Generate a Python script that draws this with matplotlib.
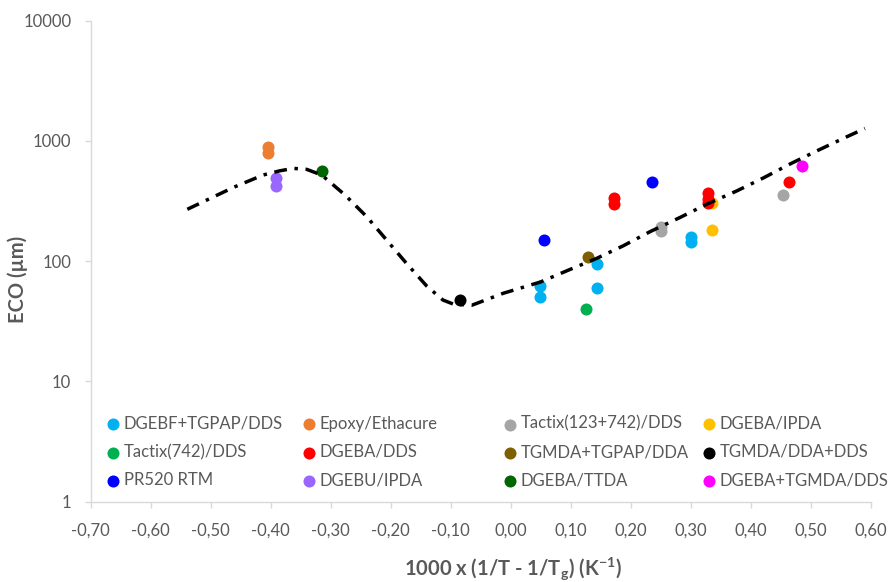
import matplotlib.pyplot as plt
from matplotlib.ticker import FixedLocator, FuncFormatter, NullLocator

plt.rcParams['font.family'] = ['Lato', 'DejaVu Sans']
plt.rcParams['mathtext.fontset'] = 'custom'
plt.rcParams['mathtext.rm'] = 'Lato:bold'
plt.rcParams['mathtext.bf'] = 'Lato:bold'

# series (legend order, row by row)
names = ["DGEBF+TGPAP/DDS", "Epoxy/Ethacure", "Tactix(123+742)/DDS", "DGEBA/IPDA",
         "Tactix(742)/DDS", "DGEBA/DDS", "TGMDA+TGPAP/DDA", "TGMDA/DDA+DDS",
         "PR520 RTM", "DGEBU/IPDA", "DGEBA/TTDA", "DGEBA+TGMDA/DDS"]
colors = ["#00B0F0", "#ED7D31", "#A5A5A5", "#FFC000",
          "#00B050", "#FF0000", "#7F6000", "#000000",
          "#0000FF", "#9966FF", "#006600", "#FF00FF"]

x_dgebf = [0.049, 0.049, 0.143, 0.143, 0.300, 0.300]
y_dgebf = [62, 50, 94, 60, 160, 145]
x_epoxy = [-0.404, -0.404]
y_epoxy = [890, 790]
x_tactix123 = [0.250, 0.250, 0.454]
y_tactix123 = [193, 179, 352]
x_ipda = [0.335, 0.335]
y_ipda = [306, 181]
x_tactix742 = [0.125]
y_tactix742 = [40]
x_dds = [0.172, 0.172, 0.329, 0.329, 0.329, 0.463]
y_dds = [333, 298, 366, 330, 302, 452]
x_tgmda_tgpap = [0.129]
y_tgmda_tgpap = [108]
x_tgmda_dda = [-0.084]
y_tgmda_dda = [48]
x_pr520 = [0.055, 0.236]
y_pr520 = [150, 452]
x_dgebu = [-0.392, -0.392]
y_dgebu = [488, 421]
x_ttda = [-0.314]
y_ttda = [564]
x_dgeba_tgmda = [0.485]
y_dgeba_tgmda = [621]

xs = [x_dgebf, x_epoxy, x_tactix123, x_ipda, x_tactix742, x_dds,
      x_tgmda_tgpap, x_tgmda_dda, x_pr520, x_dgebu, x_ttda, x_dgeba_tgmda]
ys = [y_dgebf, y_epoxy, y_tactix123, y_ipda, y_tactix742, y_dds,
      y_tgmda_tgpap, y_tgmda_dda, y_pr520, y_dgebu, y_ttda, y_dgeba_tgmda]

# model curve
curve_x = [-0.539, -0.462, -0.413, -0.385, -0.362, -0.340, -0.315, -0.276, -0.240,
           -0.207, -0.174, -0.140, -0.113, -0.096, -0.065, -0.013, 0.049, 0.099,
           0.143, 0.187, 0.232, 0.282, 0.326, 0.376, 0.421, 0.465, 0.510, 0.554, 0.590]
curve_y = [270, 411, 520, 564, 591, 580, 520, 354, 234,
           150, 96, 62, 47.5, 44, 43, 54, 67, 85.5,
           105.5, 134, 176, 231, 297, 383, 493, 642, 827, 1050, 1270]

fig = plt.figure(figsize=(8.89, 5.82), dpi=100)
ax = fig.add_axes([0.102, 0.138, 0.8777, 0.8265])

handles = []
for n, c, x, y in zip(names, colors, xs, ys):
    h = ax.scatter(x, y, s=75, color=c, linewidths=0, label=n, zorder=3)
    handles.append(h)

ax.plot(curve_x, curve_y, color="black", lw=2.5,
        linestyle=(0, (3.7, 2.2, 1.0, 2.2)), zorder=4)

ax.set_yscale("log")
ax.set_xlim(-0.7, 0.6)
ax.set_ylim(1, 10000)

ax.xaxis.set_major_locator(FixedLocator([i / 10 for i in range(-7, 7)]))
ax.xaxis.set_major_formatter(FuncFormatter(
    lambda v, p: ("%.2f" % (0.0 if abs(v) < 1e-9 else v)).replace(".", ",")))
ax.yaxis.set_major_locator(FixedLocator([1, 10, 100, 1000, 10000]))
ax.yaxis.set_major_formatter(FuncFormatter(lambda v, p: "%d" % round(v)))
ax.yaxis.set_minor_locator(NullLocator())

for s in ["top", "right"]:
    ax.spines[s].set_visible(False)
for s in ["left", "bottom"]:
    ax.spines[s].set_color("#D9D9D9")
    ax.spines[s].set_linewidth(1.0)
ax.tick_params(axis="both", colors="#D9D9D9", labelcolor="#595959",
               labelsize=12, length=4, width=1.0, direction="out")
ax.tick_params(axis="x", pad=11)
ax.tick_params(axis="y", pad=10)

ax.set_ylabel("ECO (µm)", fontsize=14.5, fontweight="bold", color="#595959")
ax.yaxis.set_label_coords(-0.093, 0.461)
ax.yaxis.label.set_verticalalignment("center")
ax.set_xlabel(r"1000 x (1/T - 1/T$_\mathregular{g}$) (K$^\mathregular{-1}$)",
              fontsize=14.5, fontweight="bold", color="#595959")
ax.xaxis.set_label_coords(0.541, -0.139)
ax.xaxis.label.set_verticalalignment("center")

# legend: 4 columns of 3 rows
col_x = [0.020, 0.2712, 0.529, 0.7838]
legs = []
for k in range(4):
    leg = ax.legend(handles=handles[k::4], loc="center left",
                    bbox_to_anchor=(col_x[k], 0.1033), frameon=False,
                    fontsize=12, labelcolor="#595959", borderpad=0,
                    borderaxespad=0, handlelength=0.8, handletextpad=0.25,
                    labelspacing=0.73, scatterpoints=1)
    legs.append(leg)
for leg in legs[:-1]:
    ax.add_artist(leg)

fig.savefig("out.png", dpi=100)
